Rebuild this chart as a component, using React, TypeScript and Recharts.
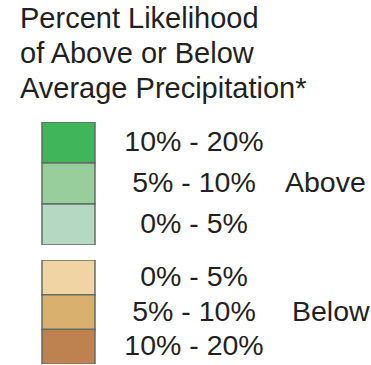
import React from 'react';
import { BarChart, Bar, Cell, XAxis, YAxis } from 'recharts';

// legend classes, top to bottom
const aboveRanges = ['10% - 20%', '5% - 10%', '0% - 5%'];
const belowRanges = ['0% - 5%', '5% - 10%', '10% - 20%'];
const aboveSwatch = [1, 1, 1];
const belowSwatch = [1, 1, 1];
const groupNames = ['Above', 'Below'];
const titleLines = ['Percent Likelihood', 'of Above or Below', 'Average Precipitation*'];

const aboveColors = ['#40b55a', '#98cd9c', '#b4d8c2'];
const belowColors = ['#f0d4a3', '#d9b06d', '#bd8250'];

const FONT = '"Liberation Sans", Arial, Helvetica, sans-serif';
const INK = '#231f20';

const makeTick = (group: string, groupX: number) => (props: any) => {
  const { x, y, payload, index } = props;
  return (
    <g>
      <text x={x + 91} y={y} dy={8.5} textAnchor="middle" fontSize={28.5} fill={INK} fontFamily={FONT}>
        {payload.value}
      </text>
      {index === 1 && (
        <text x={x + groupX} y={y} dy={8.5} textAnchor="start" fontSize={28.5} fill={INK} fontFamily={FONT}>
          {group}
        </text>
      )}
    </g>
  );
};

interface SwatchProps {
  ranges: string[];
  values: number[];
  colors: string[];
  group: string;
  groupX: number;
  height: number;
}

const Swatches: React.FC<SwatchProps> = ({ ranges, values, colors, group, groupX, height }) => {
  const data = ranges.map((range, i) => ({ range, v: values[i] }));
  return (
    <BarChart
      width={371}
      height={height}
      data={data}
      layout="vertical"
      barCategoryGap={0}
      margin={{ top: 0, right: 0, bottom: 0, left: 42 }}
    >
      <XAxis type="number" domain={[0, 1]} hide />
      <YAxis
        type="category"
        dataKey="range"
        orientation="right"
        width={276}
        axisLine={false}
        tickLine={false}
        interval={0}
        tick={makeTick(group, groupX)}
      />
      <Bar dataKey="v" isAnimationActive={false} stroke="#646b67" strokeWidth={1.5}>
        {data.map((d, i) => (
          <Cell key={d.range + i} fill={colors[i]} />
        ))}
      </Bar>
    </BarChart>
  );
};

export default function App() {
  return (
    <div
      style={{
        position: 'absolute',
        left: 0,
        top: 0,
        width: 371,
        height: 365,
        background: '#fff',
        fontFamily: FONT,
        color: INK,
        overflow: 'hidden',
      }}
    >
      <div style={{ position: 'absolute', left: 20, top: 0.5, fontSize: 29, lineHeight: '35px', whiteSpace: 'nowrap' }}>
        {titleLines.map((t) => (
          <div key={t}>{t}</div>
        ))}
      </div>
      <div style={{ position: 'absolute', left: 0, top: 122 }}>
        <Swatches ranges={aboveRanges} values={aboveSwatch} colors={aboveColors} group={groupNames[0]} groupX={182} height={123} />
      </div>
      <div style={{ position: 'absolute', left: 0, top: 260 }}>
        <Swatches ranges={belowRanges} values={belowSwatch} colors={belowColors} group={groupNames[1]} groupX={189} height={104} />
      </div>
    </div>
  );
}
